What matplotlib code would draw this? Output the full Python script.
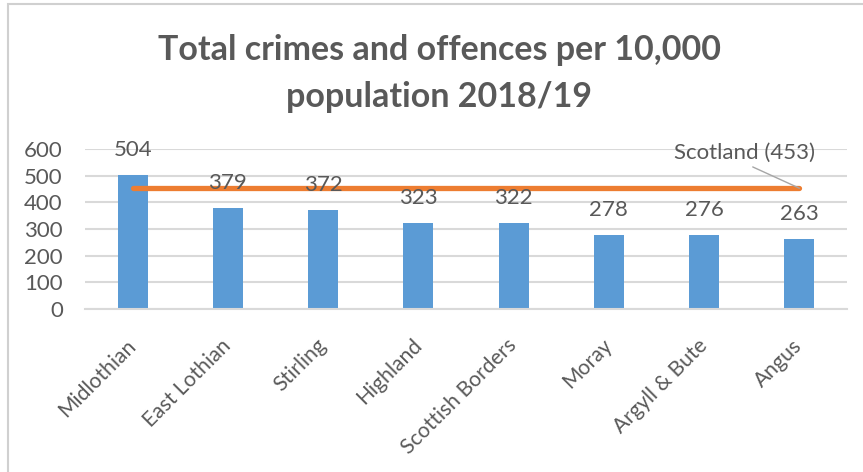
import matplotlib
matplotlib.use("Agg")
import matplotlib.pyplot as plt
from matplotlib.patches import Rectangle
from matplotlib.transforms import ScaledTranslation

# data
areas = ["Midlothian", "East Lothian", "Stirling", "Highland",
         "Scottish Borders", "Moray", "Argyll & Bute", "Angus"]
rates = [504, 379, 372, 323, 322, 278, 276, 263]
scotland = 453
yticks = [0, 100, 200, 300, 400, 500, 600]
title_lines = ["Total crimes and offences per 10,000", "population 2018/19"]

BLUE = "#5b9bd5"
ORANGE = "#ed7d31"
TEXT = "#595959"
GRID = "#d9d9d9"

plt.rcParams["font.family"] = ["Lato", "DejaVu Sans"]

W, H = 863, 472
fig = plt.figure(figsize=(W / 100, H / 100), dpi=100)
ax = fig.add_axes([85 / W, 1 - 309 / H, (847 - 85) / W, 160 / H])

# chart frame
fig.patches.append(Rectangle((8 / W, -0.1), 1.2, 1 - 4 / H + 0.1,
                             transform=fig.transFigure, fill=False,
                             edgecolor="#d0d0d0", linewidth=1.5))

x = list(range(len(areas)))
ax.bar(x, rates, width=0.315, color=BLUE, zorder=2)
ax.plot([x[0], x[-1]], [scotland, scotland], color=ORANGE, linewidth=3.8,
        solid_capstyle="round", zorder=3)

for xi, v in zip(x, rates):
    ax.annotate(str(v), (xi, v), xytext=(0, 18), textcoords="offset points",
                ha="center", va="center", fontsize=16, color=TEXT, zorder=4)

ax.annotate(f"Scotland ({scotland})", (x[-1], scotland),
            xytext=(6.42, 585), textcoords="data", ha="center", va="center",
            fontsize=16, color=TEXT, zorder=4,
            arrowprops=dict(arrowstyle="-", color="#a6a6a6", lw=1,
                            shrinkA=2, shrinkB=0, relpos=(0.5, 0)))

ax.set_xlim(-0.5, len(areas) - 0.5)
ax.set_ylim(0, 600)
ax.set_yticks(yticks)
ax.set_xticks(x)
ax.set_xticklabels(areas, rotation=45, ha="right", va="center",
                   rotation_mode="anchor", fontsize=15.2)
shift = ScaledTranslation(3 / 100, 0, fig.dpi_scale_trans)
for lbl in ax.get_xticklabels():
    lbl.set_transform(lbl.get_transform() + shift)
ax.tick_params(axis="both", length=0, labelcolor=TEXT)
ax.tick_params(axis="y", pad=16, labelsize=16)
ax.tick_params(axis="x", pad=24)
ax.yaxis.grid(True, color=GRID, linewidth=1.5, zorder=0)
ax.set_axisbelow(True)
for s in ["top", "right", "left"]:
    ax.spines[s].set_visible(False)
ax.spines["bottom"].set_color(GRID)
ax.spines["bottom"].set_linewidth(1.5)

fig.text(439 / W, 1 - 50 / H, title_lines[0], ha="center", va="center",
         fontsize=24.5, fontweight="bold", color=TEXT)
fig.text(439 / W, 1 - 97 / H, title_lines[1], ha="center", va="center",
         fontsize=24.5, fontweight="bold", color=TEXT)

fig.savefig("out.png", dpi=100)
